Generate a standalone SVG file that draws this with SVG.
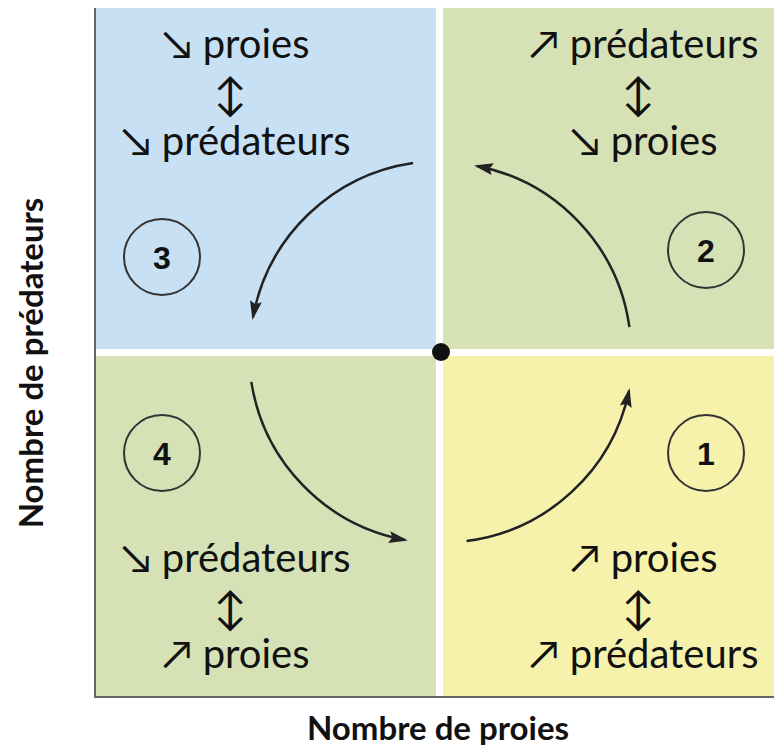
<svg xmlns="http://www.w3.org/2000/svg" width="774" height="747" viewBox="0 0 774 747">
  <style>
    .lbl { font-family: Lato, "Liberation Sans", "DejaVu Sans", sans-serif; font-size: 40px; fill: #111; text-anchor: middle; }
    .arr { font-family: Lato, "Liberation Sans", "DejaVu Sans", sans-serif; font-size: 44px; fill: #111; text-anchor: middle; }
    .num { font-family: "Liberation Sans", Arial, sans-serif; font-size: 32px; font-weight: bold; fill: #111; text-anchor: middle; }
    .ring { fill: none; stroke: #333; stroke-width: 2; }
    .axis { font-family: Lato, "Liberation Sans", sans-serif; font-size: 33px; font-weight: bold; fill: #111; text-anchor: middle; }
    .flow { fill: none; stroke: #222; stroke-width: 2.5; marker-end: url(#head); }
  </style>
  <defs>
    <marker id="head" markerUnits="userSpaceOnUse" markerWidth="20" markerHeight="14" refX="16" refY="7" orient="auto">
      <path d="M0,1 L19,7 L0,13 L3,7 Z" fill="#222"/>
    </marker>
  </defs>

  <rect width="774" height="747" fill="#fff"/>

  <!-- quadrant backgrounds -->
  <rect x="96" y="8" width="340" height="341" fill="#c8e0f3"/>
  <rect x="443" y="8" width="331" height="341" fill="#d6e2b6"/>
  <rect x="96" y="356" width="340" height="340" fill="#d6e2b6"/>
  <rect x="443" y="356" width="331" height="340" fill="#f6f2ab"/>

  <!-- axes -->
  <line x1="95" y1="8" x2="95" y2="697" stroke="#666" stroke-width="2"/>
  <line x1="94" y1="697" x2="774" y2="697" stroke="#666" stroke-width="2"/>

  <!-- equilibrium point -->
  <circle cx="441" cy="352" r="9" fill="#111"/>

  <!-- cycle connectors -->
  <g id="connectors">
    <path class="flow" d="M466.6,541.1 A191,191 0 0 0 629,391"/>
    <path class="flow" d="M629.4,327.1 A191,191 0 0 0 477,166"/>
    <path class="flow" d="M413.1,162.9 A191,191 0 0 0 253,317"/>
    <path class="flow" d="M251.3,381.9 A191,191 0 0 0 405,540"/>
  </g>

  <!-- phase 1 -->
  <g id="phase1">
    <circle class="ring" cx="706" cy="453" r="38"/>
    <text class="num" x="706" y="465">1</text>
    <text class="lbl" x="644" y="572">↗ proies</text>
    <text class="arr" x="638" y="624">↕</text>
    <text class="lbl" x="644" y="668">↗ prédateurs</text>
  </g>

  <!-- phase 2 -->
  <g id="phase2">
    <circle class="ring" cx="706" cy="250" r="38"/>
    <text class="num" x="706" y="262">2</text>
    <text class="lbl" x="644" y="58">↗ prédateurs</text>
    <text class="arr" x="638" y="110">↕</text>
    <text class="lbl" x="644" y="155">↘ proies</text>
  </g>

  <!-- phase 3 -->
  <g id="phase3">
    <circle class="ring" cx="162" cy="257" r="38"/>
    <text class="num" x="162" y="269">3</text>
    <text class="lbl" x="236" y="58">↘ proies</text>
    <text class="arr" x="230" y="110">↕</text>
    <text class="lbl" x="236" y="155">↘ prédateurs</text>
  </g>

  <!-- phase 4 -->
  <g id="phase4">
    <circle class="ring" cx="162" cy="453" r="38"/>
    <text class="num" x="162" y="465">4</text>
    <text class="lbl" x="236" y="572">↘ prédateurs</text>
    <text class="arr" x="230" y="624">↕</text>
    <text class="lbl" x="236" y="668">↗ proies</text>
  </g>

  <!-- axis titles -->
  <text class="axis" x="438" y="740">Nombre de proies</text>
  <text class="axis" transform="translate(43,363) rotate(-90)" x="0" y="0">Nombre de prédateurs</text>
</svg>
